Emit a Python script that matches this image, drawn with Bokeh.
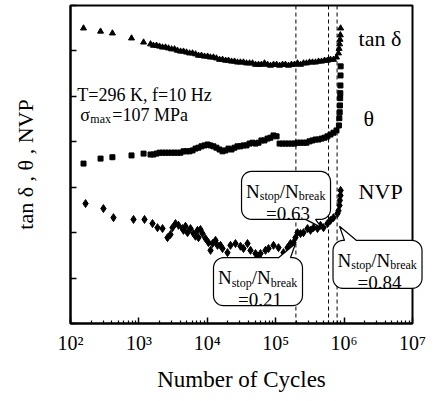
import numpy as np
from bokeh.plotting import figure
from bokeh.models import Span, FixedTicker
from bokeh.core.properties import value
from bokeh.embed import file_html
from bokeh.resources import INLINE

# ---------------- data ----------------
cycles = [155, 275, 410, 780, 1170,
          1480, 1630, 1810, 2000, 2210, 2450, 2710, 3000, 3320, 3660,
          4060, 4490, 4970, 5500, 6080, 6730, 7430, 8220, 9100, 10100,
          11100, 12300, 13600, 15100, 16700, 18500, 20400, 22600, 25000, 27600,
          30500, 33800, 37400, 41400, 45800, 50700, 56100, 61900, 68500, 75900,
          83900, 92900, 103000, 114000, 126000, 139000, 154000, 170000, 188000, 208000,
          231000, 255000, 282000, 312000, 345000, 382000, 423000, 468000, 518000, 571000,
          632000, 700000, 774000]

tan_delta = [6.50, 6.43, 6.39, 6.28, 6.19,
             6.15, 6.12, 6.12, 6.10, 6.08, 6.08, 6.06, 6.04, 6.04, 6.01,
             5.99, 5.99, 5.97, 5.95, 5.95, 5.93, 5.90, 5.90, 5.88, 5.88,
             5.86, 5.86, 5.84, 5.81, 5.81, 5.79, 5.79, 5.77, 5.77, 5.75,
             5.75, 5.75, 5.73, 5.73, 5.73, 5.70, 5.70, 5.70, 5.73, 5.70,
             5.68, 5.70, 5.70, 5.68, 5.70, 5.70, 5.68, 5.70, 5.70, 5.73,
             5.70, 5.73, 5.73, 5.75, 5.75, 5.75, 5.77, 5.77, 5.79, 5.79,
             5.81, 5.81, 5.86]

theta = [3.52, 3.63, 3.66, 3.70, 3.74,
         3.72, 3.72, 3.74, 3.76, 3.76, 3.76, 3.76, 3.76, 3.76, 3.76,
         3.76, 3.79, 3.79, 3.79, 3.81, 3.85, 3.87, 3.90, 3.92, 3.94,
         3.92, 3.90, 3.87, 3.83, 3.79, 3.81, 3.85, 3.83, 3.87, 3.90,
         3.90, 3.92, 3.92, 3.96, 3.98, 3.96, 3.98, 4.03, 4.03, 4.07,
         4.09, 4.14, 4.12, 3.96, 3.96, 3.96, 3.96, 3.96, 3.96, 3.98,
         3.98, 3.98, 3.98, 4.01, 4.03, 4.05, 4.05, 4.07, 4.09, 4.12,
         4.16, 4.20, 4.25]

tan_spike_cycles = [828000, 845000, 860000, 872000, 882000, 890000]
tan_spike = [5.95, 6.05, 6.15, 6.25, 6.35, 6.50]

theta_spike_cycles = [840000, 852000, 862000, 870000, 876000, 880000, 884000, 887000, 890000]
theta_spike = [4.36, 4.52, 4.65, 4.80, 4.96, 5.07, 5.24, 5.46, 5.66]

nvp_cycles = [166, 303, 425, 834, 1208, 1581, 1871, 2215, 2620, 2897,
              3100, 3428, 3794, 4340, 4488, 4800, 5136, 5681, 6285, 6714,
              7192, 7435, 7943, 8511, 9414, 10413, 11150, 11925, 13190, 14102,
              15600, 16680, 19730, 21830, 25820, 30560, 33820, 38720, 42830, 50700,
              56100, 59990, 70960, 78530, 92920, 109900, 130000, 148900, 164600, 182000,
              194600, 208400, 230600, 254900, 291700, 322700, 357000, 408500, 451900, 500000,
              571500, 632400, 699800, 801000, 828600, 857000, 866000, 885000, 890000]
nvp = [2.64, 2.53, 2.33, 2.29, 2.29, 2.20, 2.11, 2.09, 1.89, 1.96,
       2.11, 2.20, 2.16, 2.09, 2.05, 2.14, 2.00, 2.09, 1.98, 1.92,
       2.05, 1.89, 2.07, 1.98, 1.87, 1.78, 1.61, 1.76, 1.83, 1.72,
       1.72, 1.65, 1.56, 1.72, 1.76, 1.70, 1.65, 1.76, 1.61, 1.54,
       1.48, 1.54, 1.61, 1.65, 1.72, 1.67, 1.56, 1.67, 1.76, 1.78,
       1.89, 2.00, 1.98, 2.00, 2.09, 2.05, 2.11, 2.09, 2.16, 2.11,
       2.20, 2.27, 2.33, 2.42, 2.48, 2.60, 2.71, 2.82, 2.93]

N_BREAK = 9.4e5
RATIOS = [0.21, 0.63, 0.84]
RATIO_LABELS = ["=0.21", "=0.63", "=0.84"]

x_ticks = [10**2, 10**3, 10**4, 10**5, 10**6, 10**7]
x_tick_labels = ["10²", "10³", "10⁴", "10⁵", "10⁶", "10⁷"]
y_ticks = [0, 1, 2, 3, 4, 5, 6, 7]

# callout placement (data coords): box centre, pointer tip, side of the pointer
callout_centres = [(55100, 0.92), (141600, 2.82), (3.08e6, 1.30)]
callout_tips = [(194600, 1.76), (468000, 2.11), (857000, 2.14)]
callout_sides = ["top", "bottom", "top"]
callout_bases = [(20.5, 32.5), (19.5, 29.5), (-33, -21)]

# ---------------- figure ----------------
W, H = 438, 401
BL, BR, BT, BB = 70, 26, 5, 78
X_RANGE = (1e2, 1e7)
Y_RANGE = (0, 7)
FW = W - BL - BR
FH = H - BT - BB
PXD = FW / np.log10(X_RANGE[1] / X_RANGE[0])
PXU = FH / (Y_RANGE[1] - Y_RANGE[0])
FONT = "Liberation Serif"

p = figure(width=W, height=H, x_axis_type="log", x_range=X_RANGE, y_range=Y_RANGE,
           output_backend="svg", toolbar_location=None,
           min_border_left=BL, min_border_right=BR, min_border_top=BT, min_border_bottom=BB)
p.grid.visible = False
p.outline_line_color = "black"
p.outline_line_width = 2
p.background_fill_color = "white"
p.border_fill_color = "white"

minor = [m * 10**e for e in range(2, 7) for m in range(2, 10)]
xa = p.xaxis[0]
xa.ticker = FixedTicker(ticks=x_ticks, minor_ticks=minor)
xa.major_label_overrides = {t: l for t, l in zip(x_ticks, x_tick_labels)}
xa.major_label_text_font = FONT
xa.major_label_text_font_size = "20px"
xa.major_label_text_color = "black"
xa.major_label_standoff = 8
xa.axis_label = "Number of Cycles"
xa.axis_label_text_font = FONT
xa.axis_label_text_font_size = "23px"
xa.axis_label_text_font_style = "normal"
xa.axis_label_text_color = "black"
xa.axis_label_standoff = 10
xa.axis_line_width = 2
xa.major_tick_in = 6
xa.major_tick_out = 0
xa.minor_tick_in = 3
xa.minor_tick_out = 0
xa.major_tick_line_width = 1.5
xa.minor_tick_line_width = 1.2

ya = p.yaxis[0]
ya.ticker = FixedTicker(ticks=y_ticks)
ya.major_label_overrides = {t: "" for t in y_ticks}
ya.major_label_text_font_size = "10px"
ya.major_label_standoff = 0
ya.axis_label = "tan δ , θ , NVP"
ya.axis_label_text_font = FONT
ya.axis_label_text_font_size = "22px"
ya.axis_label_text_font_style = "normal"
ya.axis_label_text_color = "black"
ya.axis_label_standoff = 33
ya.axis_line_width = 2
ya.major_tick_in = 6
ya.major_tick_out = 0
ya.major_tick_line_width = 1.5
ya.minor_tick_line_color = None

# N_stop lines (under everything)
for r in RATIOS:
    p.add_layout(Span(location=r * N_BREAK, dimension="height", line_color="black",
                      line_width=1, line_dash="4 3", level="underlay"))

# data
p.scatter(cycles, tan_delta, marker="triangle", size=6, color="black")
p.scatter(tan_spike_cycles, tan_spike, marker="triangle", size=6, color="black")
p.scatter(cycles, theta, marker="square", size=5, color="black")
p.scatter(theta_spike_cycles, theta_spike, marker="square", size=5, color="black")
p.scatter(nvp_cycles, nvp, marker="diamond", size=8, color="black")


def to_data(cx, cy, dx, dy):
    """shift a data point by a pixel offset (dx right, dy down)"""
    return cx * 10 ** (dx / PXD), cy - dy / PXU


def callout(centre, tip, side, base, w=89, h=48, rad=10):
    cx, cy = centre
    hw, hh = w / 2, h / 2
    pts = []

    def arc(xc, yc, a0, a1):
        for a in np.linspace(a0, a1, 8):
            pts.append(to_data(cx, cy, xc + rad * np.cos(a), yc + rad * np.sin(a)))

    arc(-hw + rad, -hh + rad, np.pi, 1.5 * np.pi)
    if side == "top":
        pts.append(to_data(cx, cy, base[0], -hh))
        pts.append(tip)
        pts.append(to_data(cx, cy, base[1], -hh))
    arc(hw - rad, -hh + rad, 1.5 * np.pi, 2 * np.pi)
    arc(hw - rad, hh - rad, 0, 0.5 * np.pi)
    if side == "bottom":
        pts.append(to_data(cx, cy, base[1], hh))
        pts.append(tip)
        pts.append(to_data(cx, cy, base[0], hh))
    arc(-hw + rad, hh - rad, 0.5 * np.pi, np.pi)
    xs = [q[0] for q in pts]
    ys = [q[1] for q in pts]
    p.patch(xs, ys, fill_color="white", line_color="black", line_width=1.2, level="overlay")


def put_text(x, y, t, size, dx=0, dy=0, align="left", level="glyph"):
    tx, ty = to_data(x, y, dx, dy)
    p.text(x=[tx], y=[ty], text=[t],
           text_font_size=size, text_font=value(FONT), text_align=align,
           text_baseline="alphabetic", text_color="black", level=level)


for centre, tip, side, base, lab in zip(callout_centres, callout_tips, callout_sides,
                                        callout_bases, RATIO_LABELS):
    callout(centre, tip, side, base)
    cx, cy = centre
    put_text(cx, cy, "N", "19px", -40, -4, level="overlay")
    put_text(cx, cy, "stop", "12px", -26.3, 1, level="overlay")
    put_text(cx, cy, "/N", "19px", -6.3, -4, level="overlay")
    put_text(cx, cy, "break", "12px", 12.7, 1, level="overlay")
    put_text(cx, cy, lab, "19px", 2, 18, align="center", level="overlay")

# condition text
put_text(126, 5.02, "T=296 K, f=10 Hz", "18px")
put_text(126, 4.58, "σ", "18px", 3, 0)
put_text(126, 4.58, "max", "12px", 13, 4)
put_text(126, 4.58, "=107 MPa", "18px", 35, 0)

# series names on the right
put_text(1.63e6, 6.27, "tan δ", "22px")
put_text(1.92e6, 4.51, "θ", "22px")
put_text(1.63e6, 2.91, "NVP", "22px")

open("out.html", "w").write(file_html(p, INLINE))
